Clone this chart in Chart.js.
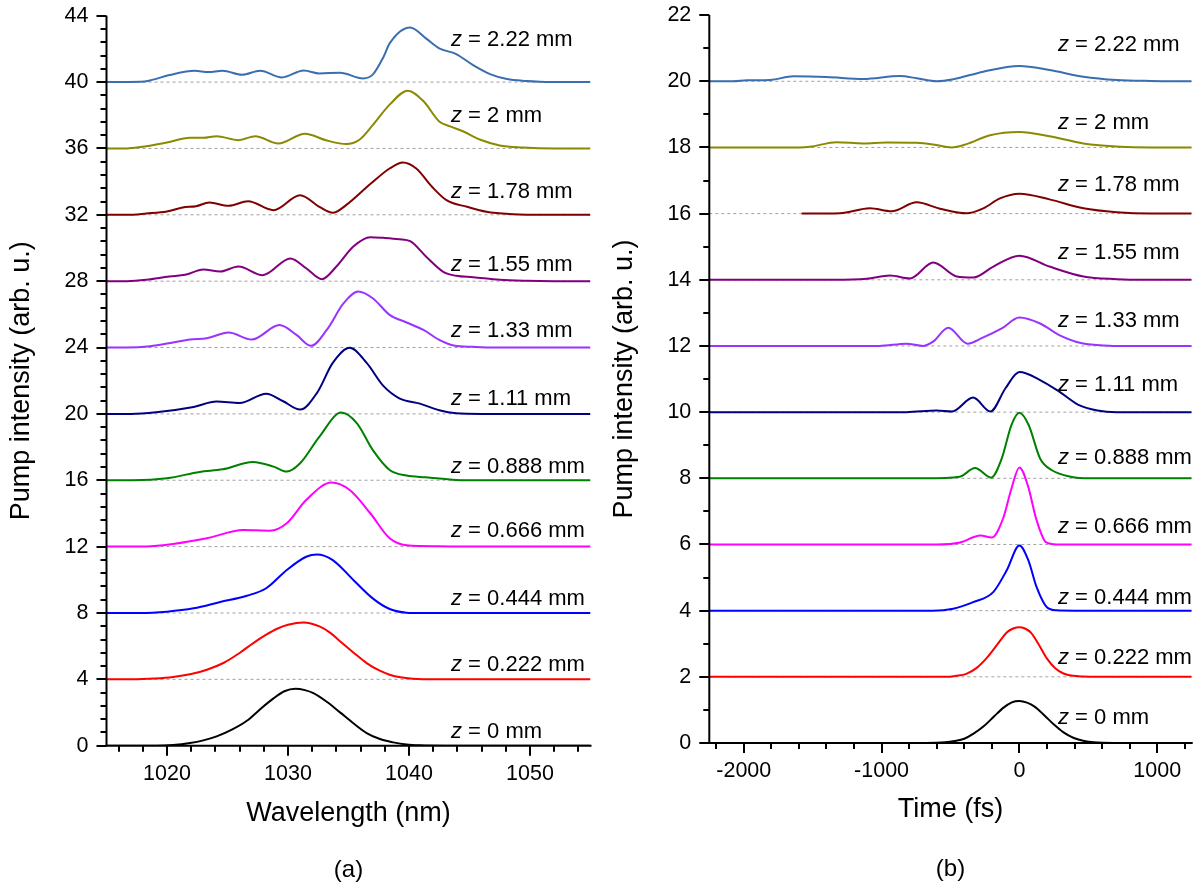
<!DOCTYPE html>
<html>
<head>
<meta charset="utf-8">
<title>Pump intensity vs. propagation distance</title>
<script src="https://cdn.jsdelivr.net/npm/chart.js@4/dist/chart.umd.min.js"></script>
<style>
  html, body { margin: 0; padding: 0; background: #fff; }
  #wrap { position: relative; width: 1200px; height: 886px; }
  #wrap canvas { position: absolute; top: 0; }
  #specChart { left: 0; }
  #pulseChart { left: 600px; }
</style>
</head>
<body>
<div id="wrap">
  <canvas id="specChart" width="600" height="886"></canvas>
  <canvas id="pulseChart" width="600" height="886"></canvas>
</div>
<script>
/**
 * Stacked pump spectra (a) and temporal profiles (b) for each propagation
 * distance z. Every trace is stored relative to its own baseline and lifted
 * by the matching offset when the datasets are built.
 */

// propagation distances in mm, bottom trace first
const zSteps = ["0", "0.222", "0.444", "0.666", "0.888", "1.11", "1.33", "1.55", "1.78", "2", "2.22"];

// baseline of each stacked trace
const specOffsets = [0, 4, 8, 12, 16, 20, 24, 28, 32, 36, 40];
const pulseOffsets = [0, 2, 4, 6, 8, 10, 12, 14, 16, 18, 20];

// axis tick labels
const specTicks = [1020, 1030, 1040, 1050];
const pulseTicks = [-2000, -1000, 0, 1000];
const specYTicks = [0, 4, 8, 12, 16, 20, 24, 28, 32, 36, 40, 44];
const pulseYTicks = [0, 2, 4, 6, 8, 10, 12, 14, 16, 18, 20, 22];

// spectra: [wavelength (nm), intensity above baseline]
const specZ0 = [[1015, 0], [1019.1, 0], [1020.5, 0.04], [1021.9, 0.16], [1023.0, 0.32], [1024.1, 0.56], [1025.4, 0.98], [1026.6, 1.5], [1027.7, 2.2], [1028.8, 2.85], [1029.7, 3.28], [1030.6, 3.43], [1031.4, 3.35], [1032.1, 3.17], [1033.2, 2.65], [1034.3, 2.01], [1035.4, 1.35], [1036.5, 0.76], [1037.6, 0.4], [1038.7, 0.2], [1039.8, 0.07], [1040.9, 0.02], [1043, 0], [1055, 0]];
const specZ222 = [[1015, 0], [1017.2, 0], [1019.0, 0.05], [1020.5, 0.14], [1022.0, 0.32], [1023.3, 0.58], [1024.7, 1.0], [1026.0, 1.59], [1027.1, 2.17], [1028.2, 2.69], [1029.1, 3.05], [1030.0, 3.29], [1031.3, 3.43], [1032.6, 3.19], [1033.5, 2.8], [1034.3, 2.29], [1035.4, 1.62], [1036.5, 0.98], [1037.5, 0.55], [1038.4, 0.28], [1039.3, 0.12], [1040.3, 0.04], [1042, 0], [1055, 0]];
const specZ444 = [[1015, 0], [1017.8, 0], [1020.0, 0.08], [1022.2, 0.28], [1024.4, 0.66], [1026.6, 1.04], [1028.2, 1.49], [1029.9, 2.59], [1031.5, 3.39], [1032.4, 3.53], [1033.7, 3.19], [1035.4, 1.99], [1037.0, 0.88], [1038.4, 0.24], [1039.8, 0.02], [1041, 0], [1055, 0]];
const specZ666 = [[1015, 0], [1017.8, 0], [1020.5, 0.16], [1023.3, 0.5], [1026.3, 1.0], [1028.5, 0.96], [1029.9, 1.41], [1031.5, 2.81], [1033.6, 3.86], [1035.1, 3.41], [1036.8, 2.01], [1038.4, 0.5], [1039.8, 0.08], [1042.5, 0.02], [1045, 0], [1055, 0]];
const specZ888 = [[1015, 0], [1017.2, 0], [1020.0, 0.12], [1022.7, 0.5], [1024.6, 0.66], [1027.1, 1.1], [1028.8, 0.82], [1029.9, 0.52], [1031.0, 1.02], [1032.6, 2.63], [1034.4, 4.08], [1035.7, 3.43], [1037.0, 1.83], [1038.4, 0.62], [1039.8, 0.28], [1041.4, 0.18], [1043.9, 0.02], [1046, 0], [1055, 0]];
const specZ1110 = [[1015, 0], [1017, 0], [1019.1, 0.1], [1022.2, 0.42], [1024.1, 0.74], [1026.0, 0.66], [1028.2, 1.22], [1029.6, 0.76], [1031.0, 0.26], [1032.4, 1.27], [1033.7, 3.07], [1035.1, 3.98], [1036.5, 3.07], [1037.9, 1.67], [1039.2, 0.94], [1040.9, 0.62], [1042.5, 0.22], [1043.9, 0.04], [1046, 0], [1055, 0]];
const specZ1330 = [[1015, 0], [1016.7, 0], [1018.6, 0.08], [1020.5, 0.3], [1021.9, 0.48], [1023.3, 0.56], [1025.1, 0.9], [1027.0, 0.48], [1029.3, 1.35], [1030.7, 0.76], [1031.9, 0.1], [1033.2, 1.06], [1034.6, 2.67], [1035.8, 3.37], [1037.0, 2.97], [1038.4, 1.97], [1039.8, 1.51], [1041.2, 1.06], [1042.5, 0.46], [1043.7, 0.12], [1045.3, 0.04], [1047, 0], [1055, 0]];
const specZ1550 = [[1015, 0], [1016.7, 0], [1018.3, 0.08], [1020.2, 0.28], [1021.5, 0.38], [1023.0, 0.7], [1024.4, 0.58], [1025.9, 0.88], [1027.9, 0.36], [1030.2, 1.37], [1031.5, 0.78], [1032.8, 0.12], [1034.0, 0.88], [1035.4, 2.09], [1036.8, 2.65], [1037.9, 2.61], [1039.2, 2.53], [1040.1, 2.41], [1041.4, 1.49], [1042.8, 0.58], [1043.9, 0.32], [1045.3, 0.24], [1047.5, 0.08], [1049.7, 0.02], [1052, 0], [1055, 0]];
const specZ1780 = [[1015, 0], [1016.7, 0], [1018.3, 0.08], [1020.0, 0.2], [1021.3, 0.44], [1022.4, 0.52], [1023.5, 0.74], [1025.1, 0.54], [1026.7, 0.82], [1028.8, 0.28], [1031.0, 1.18], [1032.6, 0.48], [1033.7, 0.12], [1034.8, 0.58], [1036.8, 1.85], [1038.4, 2.79], [1039.5, 3.15], [1040.6, 2.79], [1041.9, 1.69], [1043.1, 0.88], [1044.8, 0.48], [1046.4, 0.18], [1048.6, 0.04], [1051, 0], [1055, 0]];
const specZ2000 = [[1015, 0], [1016.7, 0], [1017.8, 0.08], [1020.0, 0.36], [1021.9, 0.64], [1023.0, 0.64], [1024.1, 0.74], [1025.9, 0.5], [1027.3, 0.74], [1029.2, 0.3], [1031.4, 0.88], [1033.2, 0.48], [1034.8, 0.26], [1035.9, 0.52], [1037.0, 1.4], [1038.4, 2.64], [1039.9, 3.48], [1041.2, 2.84], [1042.5, 1.63], [1043.4, 1.33], [1044.5, 1.02], [1045.9, 0.52], [1047.5, 0.18], [1049.4, 0.06], [1052, 0], [1055, 0]];
const specZ2220 = [[1015, 0], [1017.8, 0.02], [1018.6, 0.1], [1020.2, 0.42], [1022.3, 0.68], [1023.4, 0.6], [1024.6, 0.68], [1026.2, 0.44], [1027.7, 0.68], [1029.5, 0.28], [1031.3, 0.7], [1032.6, 0.52], [1034.3, 0.56], [1036.2, 0.22], [1037.0, 0.45], [1037.9, 1.53], [1038.4, 2.33], [1040.1, 3.29], [1041.4, 2.63], [1042.5, 2.03], [1043.9, 1.69], [1045.3, 1.02], [1046.7, 0.48], [1048.1, 0.18], [1049.7, 0.06], [1050.8, 0.02], [1053, 0], [1055, 0]];

// temporal profiles: [time (fs), intensity above baseline]
const pulseZ0 = [[-2250, 0], [-680, 0], [-540, 0.02], [-470, 0.06], [-400, 0.13], [-330, 0.29], [-255, 0.52], [-185, 0.8], [-115, 1.07], [-55, 1.23], [0, 1.27], [55, 1.22], [110, 1.1], [180, 0.84], [250, 0.56], [320, 0.32], [395, 0.15], [470, 0.06], [540, 0.02], [680, 0], [1250, 0]];
const pulseZ222 = [[-2250, 0], [-530, 0], [-460, 0.03], [-385, 0.09], [-310, 0.27], [-235, 0.58], [-160, 0.98], [-90, 1.35], [-45, 1.46], [0, 1.5], [40, 1.46], [85, 1.33], [140, 0.98], [200, 0.55], [260, 0.26], [320, 0.1], [390, 0.03], [460, 0.01], [560, 0], [1250, 0]];
const pulseZ444 = [[-2250, 0], [-630, 0], [-480, 0.06], [-335, 0.26], [-190, 0.56], [-92, 1.22], [0, 1.97], [65, 1.52], [125, 0.71], [198, 0.11], [270, 0.01], [400, 0], [1250, 0]];
const pulseZ666 = [[-2250, 0], [-600, 0], [-430, 0.06], [-283, 0.27], [-200, 0.21], [-120, 0.77], [-57, 1.7], [0, 2.33], [62, 1.77], [122, 0.77], [192, 0.07], [270, 0], [1250, 0]];
const pulseZ888 = [[-2250, 0], [-680, 0], [-433, 0.05], [-322, 0.31], [-205, 0.02], [-128, 0.6], [-58, 1.61], [0, 1.98], [67, 1.61], [150, 0.6], [233, 0.25], [372, 0.05], [511, 0], [1250, 0]];
const pulseZ1110 = [[-2250, 0], [-820, 0], [-600, 0.05], [-488, 0.02], [-336, 0.44], [-210, 0.02], [-100, 0.73], [0, 1.21], [150, 0.97], [289, 0.62], [428, 0.22], [566, 0.05], [705, 0], [1250, 0]];
const pulseZ1330 = [[-2250, 0], [-1016, 0], [-821, 0.07], [-697, 0], [-627, 0.13], [-516, 0.55], [-377, 0.07], [-266, 0.25], [-128, 0.53], [0, 0.86], [150, 0.68], [289, 0.33], [455, 0.08], [650, 0.01], [800, 0], [1250, 0]];
const pulseZ1550 = [[-2250, 0], [-1350, 0], [-1108, 0.03], [-939, 0.13], [-794, 0.04], [-625, 0.52], [-455, 0.1], [-334, 0.07], [-189, 0.4], [0, 0.73], [218, 0.4], [464, 0.1], [706, 0.02], [900, 0], [1250, 0]];
const pulseZ1780 = [[-1580, 0], [-1302, 0.01], [-1085, 0.16], [-928, 0.07], [-746, 0.34], [-576, 0.15], [-383, 0.01], [-262, 0.16], [-141, 0.46], [0, 0.6], [218, 0.43], [464, 0.16], [706, 0.04], [950, 0], [1250, 0]];
const pulseZ2000 = [[-2250, 0], [-1592, 0], [-1519, 0.02], [-1326, 0.16], [-1133, 0.12], [-963, 0.15], [-746, 0.14], [-625, 0.09], [-492, 0], [-383, 0.1], [-214, 0.37], [0, 0.47], [218, 0.34], [464, 0.12], [730, 0.02], [950, 0], [1250, 0]];
const pulseZ2220 = [[-2250, 0], [-2076, 0], [-1979, 0.03], [-1809, 0.04], [-1640, 0.15], [-1398, 0.13], [-1133, 0.07], [-866, 0.16], [-745, 0.09], [-600, 0], [-479, 0.06], [-262, 0.29], [0, 0.46], [218, 0.34], [464, 0.14], [706, 0.04], [950, 0.01], [1250, 0]];

const spectra = [specZ0, specZ222, specZ444, specZ666, specZ888, specZ1110, specZ1330, specZ1550, specZ1780, specZ2000, specZ2220];
const pulses = [pulseZ0, pulseZ222, pulseZ444, pulseZ666, pulseZ888, pulseZ1110, pulseZ1330, pulseZ1550, pulseZ1780, pulseZ2000, pulseZ2220];

// styling
const FONT = "'Liberation Sans', Arial, sans-serif";
const traceColors = ["#000000", "#ff0000", "#0000ff", "#ff00ff", "#008000", "#000080", "#9933ff", "#800080", "#800000", "#8a8a00", "#3a6eb0"];
const specTagY = [0.81, 4.86, 8.82, 12.96, 16.82, 20.88, 25.0, 28.98, 33.36, 37.95, 42.53];
const pulseTagY = [0.75, 2.57, 4.38, 6.54, 8.61, 10.82, 12.77, 14.8, 16.87, 18.73, 21.1];

Chart.defaults.font.family = FONT;
Chart.defaults.color = "#000";

// axis lines plus major/minor tick marks (Chart.js only knows one tick length)
const axisFrame = {
  id: "axisFrame",
  afterDatasetsDraw(chart, args, opts) {
    const { ctx, chartArea: a, scales: { x, y } } = chart;
    ctx.save();
    ctx.strokeStyle = "#000";
    ctx.lineWidth = 2;
    ctx.beginPath();
    ctx.moveTo(a.left, a.top);
    ctx.lineTo(a.left, a.bottom);
    ctx.lineTo(a.right + 1, a.bottom);
    ctx.stroke();

    ctx.beginPath();
    const xMark = (v, len) => {
      const px = Math.round(x.getPixelForValue(v));
      ctx.moveTo(px, a.bottom);
      ctx.lineTo(px, a.bottom + len);
    };
    const yMark = (v, len) => {
      const py = Math.round(y.getPixelForValue(v));
      ctx.moveTo(a.left, py);
      ctx.lineTo(a.left - len, py);
    };
    opts.xMajor.forEach((v) => xMark(v, 10));
    opts.xMinor.forEach((v) => xMark(v, 6));
    opts.yMajor.forEach((v) => yMark(v, 10));
    opts.yMinor.forEach((v) => yMark(v, 6));
    ctx.stroke();
    ctx.restore();
  },
};

// "z = ... mm" tag above every trace
const zTags = {
  id: "zTags",
  afterDatasetsDraw(chart, args, opts) {
    const { ctx, scales: { x, y } } = chart;
    ctx.save();
    ctx.fillStyle = "#000";
    ctx.textBaseline = "middle";
    ctx.textAlign = "left";
    const px = x.getPixelForValue(opts.at);
    zSteps.forEach((z, i) => {
      const py = y.getPixelForValue(opts.heights[i]);
      ctx.font = `italic 22px ${FONT}`;
      ctx.fillText("z", px, py);
      const w = ctx.measureText("z").width;
      ctx.font = `22px ${FONT}`;
      ctx.fillText(` = ${z} mm`, px + w, py);
    });
    ctx.restore();
  },
};

function buildDatasets(traces, offsets, xMin, xMax) {
  const curves = traces.map((trace, i) => ({
    data: trace.map(([x, v]) => ({ x, y: v + offsets[i] })),
    borderColor: traceColors[i],
    borderWidth: 2,
    pointRadius: 0,
    cubicInterpolationMode: "monotone",
    fill: false,
    order: 1,
  }));
  const baselines = offsets.slice(1).map((off) => ({
    data: [{ x: xMin, y: off }, { x: xMax, y: off }],
    borderColor: "#a0a0a0",
    borderWidth: 1,
    borderDash: [3, 3],
    pointRadius: 0,
    fill: false,
    order: 2,
  }));
  return curves.concat(baselines);
}

// every step between from and to that is not already a labelled tick
function tickLadder(from, to, step, majors) {
  const out = [];
  const n = Math.round((to - from) / step);
  for (let i = 0; i <= n; i++) {
    const v = +(from + i * step).toFixed(3);
    if (!majors.some((m) => Math.abs(m - v) < 1e-6)) out.push(v);
  }
  return out;
}

function makePanel(canvasId, cfg) {
  return new Chart(document.getElementById(canvasId), {
    type: "line",
    data: { datasets: buildDatasets(cfg.traces, cfg.offsets, cfg.xMin, cfg.xMax) },
    plugins: [axisFrame, zTags],
    options: {
      responsive: false,
      animation: false,
      events: [],
      layout: { padding: cfg.padding },
      scales: {
        x: {
          type: "linear",
          min: cfg.xMin,
          max: cfg.xMax,
          afterBuildTicks: (s) => { s.ticks = cfg.xTicks.map((value) => ({ value })); },
          afterFit: (s) => {
            s.height = cfg.xHeight;
            s.paddingLeft = 0;
            s.paddingRight = 0;
          },
          grid: { display: false, drawTicks: false },
          border: { display: false },
          ticks: {
            autoSkip: false,
            maxRotation: 0,
            padding: 15,
            font: { size: 21.5 },
            callback: (v) => String(v),
          },
          title: {
            display: true,
            text: cfg.xTitle,
            font: { size: 27 },
            padding: { top: 0, bottom: 4 },
          },
        },
        y: {
          type: "linear",
          min: 0,
          max: cfg.yTicks[cfg.yTicks.length - 1],
          afterBuildTicks: (s) => { s.ticks = cfg.yTicks.map((value) => ({ value })); },
          afterFit: (s) => {
            s.width = cfg.yWidth;
            s.paddingTop = 0;
            s.paddingBottom = 0;
          },
          grid: { display: false, drawTicks: false },
          border: { display: false },
          ticks: {
            autoSkip: false,
            padding: 18,
            font: { size: 21.5 },
            callback: (v) => String(v),
          },
          title: {
            display: true,
            text: "Pump intensity (arb. u.)",
            font: { size: 27 },
            padding: { top: cfg.yTitlePad, bottom: 0 },
          },
        },
      },
      plugins: {
        legend: { display: false },
        tooltip: { enabled: false },
        title: {
          display: true,
          text: cfg.caption,
          position: "bottom",
          fullSize: false,
          color: "#000",
          font: { size: 24, weight: "normal" },
          padding: { top: cfg.captionPad, bottom: 0 },
        },
        axisFrame: cfg.marks,
        zTags: { at: cfg.tagX, heights: cfg.tagY },
      },
    },
  });
}

makePanel("specChart", {
  traces: spectra,
  offsets: specOffsets,
  xMin: 1015,
  xMax: 1055,
  xTicks: specTicks,
  yTicks: specYTicks,
  xTitle: "Wavelength (nm)",
  xHeight: 88.1,
  yWidth: 106.5,
  yTitlePad: 5.7,
  caption: "(a)",
  captionPad: 22.3,
  padding: { left: 0, right: 9.5, top: 15.7, bottom: 1.1 },
  tagX: 1043.47,
  tagY: specTagY,
  marks: {
    xMajor: specTicks,
    xMinor: tickLadder(1016, 1054, 2, specTicks),
    yMajor: specYTicks,
    yMinor: tickLadder(0, 44, 0.8, specYTicks),
  },
});

makePanel("pulseChart", {
  traces: pulses,
  offsets: pulseOffsets,
  xMin: -2250,
  xMax: 1250,
  xTicks: pulseTicks,
  yTicks: pulseYTicks,
  xTitle: "Time (fs)",
  xHeight: 87.2,
  yWidth: 109.3,
  yTitlePad: 8.4,
  caption: "(b)",
  captionPad: 24.9,
  padding: { left: 0, right: 8.3, top: 15.1, bottom: 2.1 },
  tagX: 280,
  tagY: pulseTagY,
  marks: {
    xMajor: pulseTicks,
    xMinor: tickLadder(-2200, 1200, 200, pulseTicks),
    yMajor: pulseYTicks,
    yMinor: tickLadder(0, 22, 1, pulseYTicks),
  },
});
</script>
</body>
</html>
